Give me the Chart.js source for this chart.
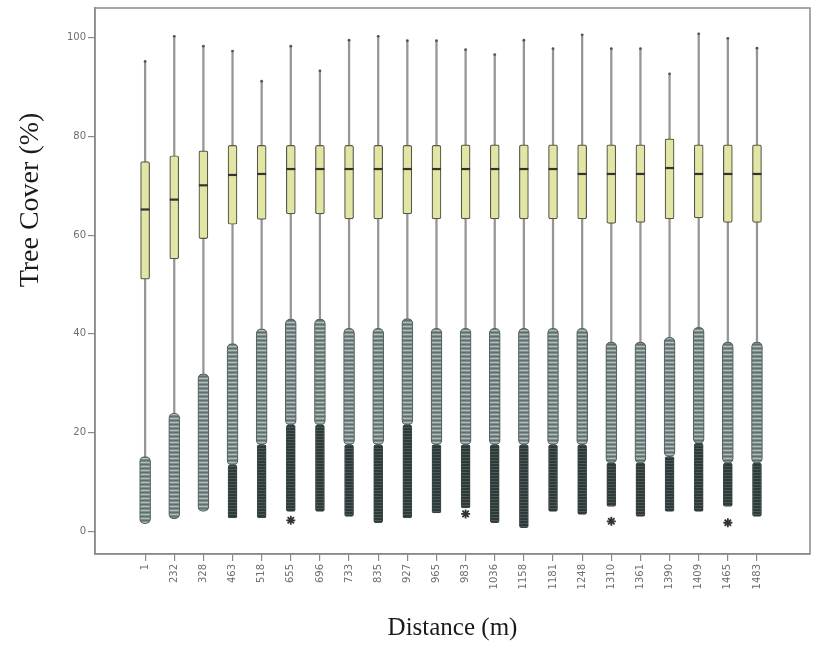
<!DOCTYPE html>
<html><head><meta charset="utf-8">
<script src="https://cdn.jsdelivr.net/npm/chart.js@4.4.0/dist/chart.umd.min.js"></script>
<style>html,body{margin:0;padding:0;background:#fff}</style>
</head><body>
<canvas id="c" width="833" height="666"></canvas>
<script>
const categories = ['1','232','328','463','518','655','696','733','835','927','965','983','1036','1158','1181','1248','1310','1361','1390','1409','1465','1483'];
const yTicks = [0, 20, 40, 60, 80, 100];
const upperWhisker = [95.2, 100.3, 98.3, 97.3, 91.2, 98.3, 93.3, 99.5, 100.3, 99.4, 99.4, 97.6, 96.6, 99.5, 97.8, 100.6, 97.8, 97.8, 92.7, 100.8, 99.9, 97.9];
const q3 = [74.9, 76.1, 77.1, 78.2, 78.2, 78.2, 78.2, 78.2, 78.2, 78.2, 78.2, 78.3, 78.3, 78.3, 78.3, 78.3, 78.3, 78.3, 79.5, 78.3, 78.3, 78.3];
const median = [65.2, 67.2, 70.1, 72.2, 72.4, 73.4, 73.4, 73.4, 73.4, 73.4, 73.4, 73.4, 73.4, 73.4, 73.4, 72.4, 72.4, 72.4, 73.6, 72.4, 72.4, 72.4];
const q1 = [51.1, 55.2, 59.3, 62.2, 63.2, 64.3, 64.3, 63.3, 63.3, 64.3, 63.3, 63.3, 63.3, 63.3, 63.3, 63.3, 62.4, 62.6, 63.3, 63.5, 62.6, 62.6];
const lowerWhisker = [15.1, 23.9, 31.9, 38.0, 41.0, 43.0, 43.0, 41.1, 41.1, 43.1, 41.1, 41.1, 41.1, 41.1, 41.1, 41.1, 38.3, 38.3, 39.3, 41.3, 38.3, 38.3];
const outlierLow = [1.5, 2.5, 4.0, 13.4, 17.5, 21.5, 21.5, 17.5, 17.5, 21.5, 17.5, 17.5, 17.5, 17.5, 17.5, 17.5, 13.8, 13.8, 15.1, 17.8, 13.8, 13.8];
const extremeLow = [null, null, null, 2.7, 2.7, 4.0, 4.0, 3.0, 1.7, 2.7, 3.7, 4.7, 1.7, 0.7, 4.0, 3.4, 5.0, 3.0, 4.0, 4.0, 5.0, 3.0];
const loneExtreme = [null, null, null, null, null, 2.2, null, null, null, null, null, 3.5, null, null, null, null, 2.0, null, null, null, 1.7, null];

const canvas = document.getElementById('c');
const mainCtx = canvas.getContext('2d');
function rowPattern(rows) {
  const c = document.createElement('canvas');
  c.width = 1; c.height = rows.length;
  const g = c.getContext('2d');
  rows.forEach((col, i) => { g.fillStyle = col; g.fillRect(0, i, 1, 1); });
  return mainCtx.createPattern(c, 'repeat');
}
const circlePattern = rowPattern(['#5f6f6d', '#7e8e8c', '#b3bebc', '#7e8e8c']);
const starPattern = rowPattern(['#2e3a39', '#4d5957', '#2e3a39']);

const idx = categories.map((_, i) => i);
const whiskerData = idx.map(i => ({x: i, y: [lowerWhisker[i], upperWhisker[i]]}));
const boxData = idx.map(i => ({x: i, y: [q1[i], q3[i]]}));
const medianData = idx.map(i => ({x: i, y: median[i]}));
const capData = idx.map(i => ({x: i, y: upperWhisker[i]}));
const circleData = idx.map(i => ({x: i, y: [outlierLow[i], lowerWhisker[i]]}));
const starData = idx.filter(i => extremeLow[i] !== null).map(i => ({x: i, y: [extremeLow[i], outlierLow[i]]}));
const loneData = idx.filter(i => loneExtreme[i] !== null).map(i => ({x: i, y: loneExtreme[i]}));

const axisColor = '#8a8a8a';
const decor = {
  id: 'decor',
  afterDraw(chart) {
    const {ctx, chartArea: a} = chart;
    ctx.save();
    ctx.strokeStyle = axisColor;
    ctx.lineWidth = 1.5;
    ctx.strokeRect(a.left, a.top, a.right - a.left, a.bottom - a.top);
    ctx.translate(31, 200);
    ctx.rotate(-Math.PI / 2);
    ctx.font = '28px "Liberation Serif"';
    ctx.fillStyle = '#1a1a1a';
    ctx.textAlign = 'center';
    ctx.textBaseline = 'middle';
    ctx.fillText('Tree Cover (%)', 0, 0);
    ctx.restore();
  }
};

new Chart(canvas, {
  type: 'bar',
  data: {
    datasets: [
      {type: 'bar', data: whiskerData, backgroundColor: '#959595', barThickness: 1.6, grouped: false, order: 6},
      {type: 'bar', data: circleData, backgroundColor: circlePattern, borderColor: '#566563', borderWidth: 1.2, borderSkipped: false, borderRadius: 5, barThickness: 11, grouped: false, order: 5},
      {type: 'bar', data: starData, backgroundColor: starPattern, borderColor: '#3b4746', borderWidth: 1, borderSkipped: false, borderRadius: 2, barThickness: 9, grouped: false, order: 4},
      {type: 'bar', data: boxData, backgroundColor: '#e3e5a4', borderColor: '#55584a', borderWidth: 1.2, borderSkipped: false, borderRadius: 2, barThickness: 9, grouped: false, order: 3},
      {type: 'line', data: medianData, showLine: false, pointStyle: 'line', pointRadius: 4.5, pointBorderWidth: 2.2, pointBorderColor: '#333', order: 2},
      {type: 'line', data: capData, showLine: false, pointStyle: 'circle', pointRadius: 1.4, pointBorderWidth: 0, pointBackgroundColor: '#555', order: 2},
      {type: 'line', data: loneData, showLine: false, pointStyle: 'star', pointRadius: 4.5, pointBorderWidth: 1.8, pointBorderColor: '#333', order: 1}
    ]
  },
  options: {
    responsive: false,
    animation: false,
    devicePixelRatio: 1,
    layout: {padding: {top: 4, right: 23, left: 0, bottom: 0}},
    plugins: {legend: {display: false}, tooltip: {enabled: false}},
    scales: {
      x: {
        type: 'linear', min: -1.72, max: 22.82, offset: false,
        afterBuildTicks: s => { s.ticks = categories.map((_, i) => ({value: i})); },
        afterFit: s => { s.height = 112; },
        ticks: {autoSkip: false, minRotation: 90, maxRotation: 90, padding: 3,
          callback: v => categories[v], color: '#6f6f6f', font: {family: 'DejaVu Sans', size: 10}},
        grid: {offset: false, drawOnChartArea: false, drawTicks: true, tickLength: 7, color: axisColor, lineWidth: 1.2},
        border: {display: true, color: axisColor, width: 1.5},
        title: {display: true, text: 'Distance (m)', color: '#1a1a1a',
          font: {family: 'Liberation Serif', size: 25}, padding: {top: 0, bottom: 23}}
      },
      y: {
        type: 'linear', min: -4.63, max: 106.04,
        afterBuildTicks: s => { s.ticks = yTicks.map(v => ({value: v})); },
        afterFit: s => { s.width = 95; },
        ticks: {padding: 2, color: '#6f6f6f', font: {family: 'DejaVu Sans', size: 10}},
        grid: {drawOnChartArea: false, drawTicks: true, tickLength: 7, color: axisColor, lineWidth: 1.2},
        border: {display: true, color: axisColor, width: 1.5}
      }
    }
  },
  plugins: [decor]
});
</script>
</body></html>
